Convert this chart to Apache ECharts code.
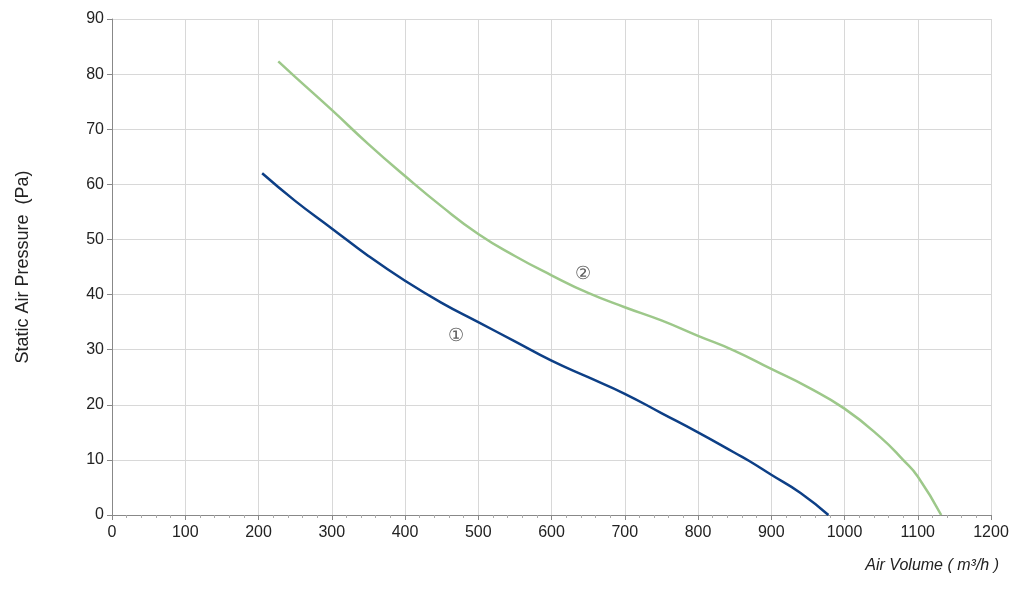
<!DOCTYPE html><html><head><meta charset="utf-8">
<script src="https://cdn.jsdelivr.net/npm/echarts@6/dist/echarts.min.js"></script>
<style>html,body{margin:0;background:#fff}#c{width:1024px;height:597px}</style></head><body><div id="c"></div>
<script>
const curve1 = [[205,62],[250,57],[300,52],[350,47],[400,42.5],[450,38.5],[500,35],[550,31.5],[600,28],[650,25],[700,22],[750,18.5],[800,15],[850,11.3],[870,9.8],[900,7.3],[940,4],[978,0]];
const curve2 = [[227,82.3],[250,79.5],[300,73.5],[350,67.3],[400,61.5],[450,56],[500,51],[550,47],[600,43.5],[650,40.3],[700,37.7],[750,35.3],[800,32.5],[850,29.8],[900,26.5],[950,23.2],[1000,19.3],[1050,14],[1080,10],[1100,7],[1132,0]];
const labels = [{name:'①',value:[470,32.5]},{name:'②',value:[643,43.8]}];
const xTicks = [0,1200,100];
const yTicks = [0,90,10];
const F = 'Liberation Sans, Arial, sans-serif';
const ch = echarts.init(document.getElementById('c'));
ch.setOption({
  animation:false,
  textStyle:{fontFamily:F},
  grid:{left:112,right:33,top:19,bottom:82},
  xAxis:{type:'value',min:xTicks[0],max:xTicks[1],interval:xTicks[2],
    name:'Air Volume ( m³/h )',nameLocation:'end',nameGap:0,
    nameTextStyle:{fontFamily:F,fontStyle:'italic',fontSize:16,color:'#222',align:'right',verticalAlign:'top',padding:[43,-8,0,0]},
    axisLine:{lineStyle:{color:'#888'}},axisTick:{show:true,lineStyle:{color:'#888'}},
    minorTick:{show:true,splitNumber:5,length:3,lineStyle:{color:'#aaa'}},
    axisLabel:{color:'#222',fontSize:16,margin:10,fontFamily:F,formatter:v=>String(v)},
    splitLine:{lineStyle:{color:'#d8d8d8'}}},
  yAxis:{type:'value',min:yTicks[0],max:yTicks[1],interval:yTicks[2],
    name:'Static Air Pressure  (Pa)',nameLocation:'middle',nameGap:80,nameRotate:90,
    nameTextStyle:{fontSize:18,color:'#222',fontFamily:F},
    axisLine:{show:true,lineStyle:{color:'#888'}},axisTick:{show:true,lineStyle:{color:'#888'}},
    axisLabel:{color:'#222',fontSize:16,fontFamily:F},
    splitLine:{lineStyle:{color:'#d8d8d8'}}},
  series:[
    {type:'line',data:curve1,smooth:true,showSymbol:false,lineStyle:{color:'#0d3f86',width:2.5}},
    {type:'line',data:curve2,smooth:true,showSymbol:false,lineStyle:{color:'#9dc88a',width:2.5}},
    {type:'scatter',data:labels,symbolSize:0,label:{show:true,formatter:p=>p.name,position:'inside',fontSize:18,color:'#333'}}
  ]
});
</script></body></html>
